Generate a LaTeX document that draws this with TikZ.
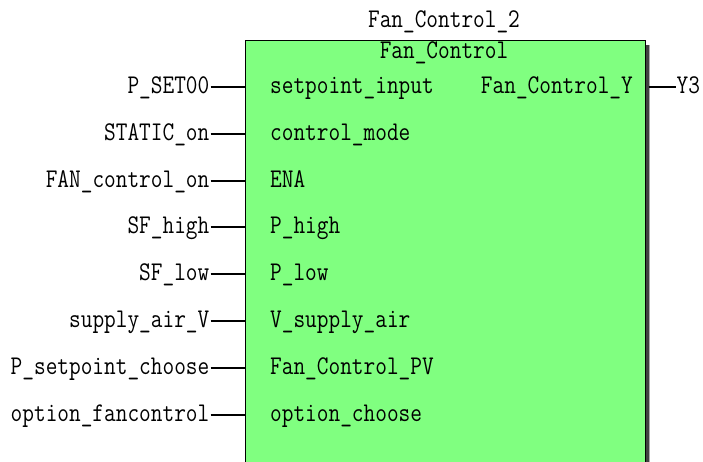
\documentclass[tikz,border=0pt]{standalone}
\usepackage{graphicx}
\newcommand{\nrw}[1]{\scalebox{0.84}[1]{#1}}
\definecolor{fbgreen}{RGB}{128,255,128}
\definecolor{shadowdark}{RGB}{64,64,64}
\definecolor{shadowlight}{RGB}{170,170,170}
\begin{document}
\begin{tikzpicture}[x=1pt,y=-1pt,
  txt/.style={font=\ttfamily\fontsize{27}{27}\selectfont, inner sep=0pt, text=black},
  wire/.style={draw=black, line width=2pt}]
\useasboundingbox (0,0) rectangle (703,461);
\clip (0,0) rectangle (703,461);

% block shadow and body
\fill[shadowdark] (644.5,45) rectangle (648.5,480);
\fill[shadowlight] (648.5,45) rectangle (649.6,480);
\node[draw=black, line width=0.9pt, fill=fbgreen, minimum width=399.5pt,
      minimum height=440pt, anchor=north west, inner sep=0pt] (fb) at (245,40) {};

% instance name and type name
\node[txt, anchor=base] (inst) at (444,27) {\nrw{Fan\_Control\_2}};
\node[txt, anchor=base] (type) at (444,58.3) {\nrw{Fan\_Control}};

% inputs: row height, variable, pin name
\foreach \yy/\var/\pin [count=\i] in {
    87/P\_SET00/setpoint\_input,
    134/STATIC\_on/control\_mode,
    181/FAN\_control\_on/ENA,
    227/SF\_high/P\_high,
    274/SF\_low/P\_low,
    321/supply\_air\_V/V\_supply\_air,
    368/P\_setpoint\_choose/Fan\_Control\_PV,
    415/option\_fancontrol/option\_choose} {
  \pgfmathsetmacro{\yb}{\yy+6.5}
  \node[txt, anchor=base east] (var\i) at (209.5,\yb) {\nrw{\var}};
  \node[txt, anchor=base west] (pin\i) at (270,\yb) {\nrw{\pin}};
  \coordinate (w\i) at (210.5,\yy);
  \draw[wire] (w\i) -- (fb.west |- w\i);
}

% output
\node[txt, anchor=base east] (opin) at (633,93.5) {\nrw{Fan\_Control\_Y}};
\coordinate (o1) at (648.5,87);
\coordinate (o2) at (676,87);
\draw[wire] (o1) -- (o2);
\node[txt, anchor=base west] (ovar) at (676.5,93.5) {\nrw{Y3}};
\end{tikzpicture}
\end{document}
